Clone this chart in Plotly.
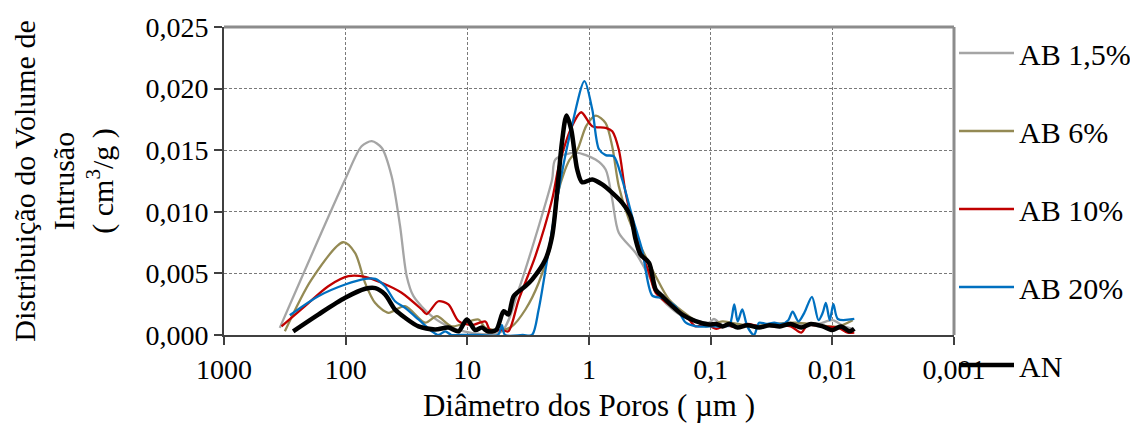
import plotly.graph_objects as go

series_names = ["AB 1,5%", "AB 6%", "AB 10%", "AB 20%", "AN"]
colors = ["#A5A5A5", "#948A54", "#C00000", "#0070C0", "#000000"]
widths = [2.3, 2.3, 2.3, 2.3, 4.5]

d_ab15 = [348, 101, 74, 61, 50.6, 41.9, 35.7, 31.5, 27.7, 19.6, 13.4, 8.1, 5.2, 3.78, 2.59, 2.01, 1.89,
          1.29, 0.884, 0.73, 0.644, 0.569, 0.414, 0.321, 0.25, 0.171, 0.103, 0.094, 0.08, 0.06, 0.045,
          0.03, 0.02, 0.013, 0.01, 0.008, 0.0068]
v_ab15 = [0.00058, 0.01262, 0.01532, 0.01573, 0.0152, 0.01289, 0.00883, 0.00477, 0.00315, 0.00153, 0.00058,
          0.0001, 0.0003, 0.0037, 0.00883, 0.01262, 0.01424, 0.01481, 0.01424, 0.01343, 0.011, 0.0083,
          0.00667, 0.00477, 0.00288, 0.00153, 0.001, 0.0013, 0.0008, 0.0007, 0.0008, 0.0007, 0.0008,
          0.0009, 0.0012, 0.0007, 0.0005]

d_ab6 = [316, 191, 105, 83.8, 69.3, 57.4, 44.6, 32.5, 22.2, 17.8, 13.4, 8.1, 7.1, 5.2, 4.3, 3.33, 2.59,
         2.01, 1.77, 1.45, 1.25, 1.05, 0.88, 0.73, 0.644, 0.569, 0.47, 0.366, 0.283, 0.22, 0.151, 0.11,
         0.1, 0.08, 0.06, 0.045, 0.03, 0.02, 0.013, 0.009, 0.0068]
v_ab6 = [0.0003, 0.0045, 0.00753, 0.00667, 0.00424, 0.00261, 0.0018, 0.00234, 0.001, 0.00153, 0.0007,
         0.00126, 0.00058, 0.0004, 0.0007, 0.00207, 0.00424, 0.0078, 0.0118, 0.0142, 0.0150, 0.0170,
         0.0178, 0.0172, 0.0153, 0.01208, 0.00938, 0.00694, 0.00477, 0.00288, 0.00153, 0.0007, 0.0008,
         0.0011, 0.0009, 0.0007, 0.0009, 0.0010, 0.0008, 0.0007, 0.0012]

d_ab10 = [337, 216, 139, 95, 69.4, 50.6, 34.7, 23.7, 21.6, 17.3, 14.3, 11.8, 9.2, 7.1, 6.5, 5.2, 4.6,
          3.78, 2.76, 2.01, 1.77, 1.38, 1.16, 0.94, 0.73, 0.644, 0.569, 0.5, 0.389, 0.321, 0.283, 0.194,
          0.151, 0.133, 0.11, 0.09, 0.075, 0.06, 0.05, 0.04, 0.03, 0.022, 0.018, 0.016, 0.012, 0.009,
          0.0075, 0.0066]
v_ab10 = [0.0007, 0.00234, 0.00396, 0.00477, 0.00472, 0.00424, 0.00343, 0.00207, 0.0017, 0.00274, 0.00248,
          0.00112, 0.0008, 0.0011, 0.0004, 0.0004, 0.0003, 0.00288, 0.0064, 0.011, 0.0137, 0.01695,
          0.01808, 0.01695, 0.01682, 0.01654, 0.01506, 0.01154, 0.0072, 0.00505, 0.00343, 0.00207,
          0.00126, 0.0007, 0.0009, 0.0005, 0.0008, 0.0006, 0.0009, 0.0007, 0.0008, 0.0007, 0.0002,
          0.0008, 0.0007, 0.0006, 0.0002, 0.0002]

d_ab20 = [288, 168, 101, 69, 57, 47.5, 39.3, 32.5, 25.2, 19.6, 17.3, 15.2, 13.5, 12, 8, 5.6, 5.2, 4.9,
          3.5, 2.94, 2.6, 2.2, 1.72, 1.38, 1.09, 0.94, 0.83, 0.73, 0.625, 0.533, 0.441, 0.366, 0.302,
          0.25, 0.194, 0.16, 0.13, 0.1, 0.08, 0.07, 0.064, 0.06, 0.055, 0.05, 0.044, 0.04, 0.035, 0.03,
          0.026, 0.023, 0.0212, 0.019, 0.017, 0.0147, 0.013, 0.012, 0.0113, 0.0105, 0.0098, 0.009,
          0.0066]
v_ab20 = [0.0016, 0.00315, 0.0041, 0.00456, 0.00456, 0.00396, 0.00274, 0.0022, 0.00126, 0.0003, 0.0,
          0.0003, 0.0, 0.0, 0.0, 0.0, 0.0008, 0.0, 0.0, 0.0, 0.002, 0.0062, 0.0125, 0.0170, 0.0206,
          0.0183, 0.0151, 0.0146, 0.0145, 0.0126, 0.0096, 0.0069, 0.0032, 0.0030, 0.0023, 0.0010,
          0.0007, 0.0007, 0.0007, 0.0008, 0.00248, 0.0011, 0.00207, 0.0007, 0.0, 0.001, 0.0009, 0.0010,
          0.0009, 0.0012, 0.0019, 0.0011, 0.0018, 0.0031, 0.0012, 0.0018, 0.0026, 0.0012, 0.0025,
          0.0013, 0.0013]

d_an = [270, 168, 101, 69, 57, 47.5, 39.3, 32.5, 25.2, 18.4, 14.3, 11.8, 10.1, 8.6, 7.6, 6.8, 5.8, 5.03,
        4.6, 4.16, 3.33, 2.94, 2.28, 2.01, 1.83, 1.67, 1.53, 1.40, 1.25, 1.14, 0.94, 0.78, 0.644, 0.533,
        0.455, 0.414, 0.377, 0.321, 0.283, 0.25, 0.207, 0.171, 0.133, 0.103, 0.09, 0.08, 0.07, 0.06,
        0.05, 0.04, 0.033, 0.027, 0.022, 0.018, 0.015, 0.012, 0.01, 0.0085, 0.0072, 0.0066]
v_an = [0.0003, 0.00166, 0.00302, 0.00375, 0.0038, 0.00329, 0.00207, 0.0014, 0.0007, 0.00045, 0.0006,
        0.0003, 0.00126, 0.0004, 0.0006, 0.0003, 0.0004, 0.00193, 0.00166, 0.00315, 0.00396, 0.0045,
        0.00613, 0.00802, 0.01154, 0.0156, 0.01782, 0.01668, 0.01343, 0.0124, 0.01262, 0.01222,
        0.01154, 0.01073, 0.00964, 0.00775, 0.00653, 0.00586, 0.00369, 0.00315, 0.00234, 0.00166,
        0.00112, 0.00085, 0.0009, 0.0007, 0.0009, 0.0006, 0.0008, 0.0006, 0.0008, 0.0007, 0.0009,
        0.0006, 0.0009, 0.0007, 0.0004, 0.0007, 0.0003, 0.0005]

x_tickvals = [1000, 100, 10, 1, 0.1, 0.01, 0.001]
x_ticktext = ["1000", "100", "10", "1", "0,1", "0,01", "0,001"]
y_tickvals = [0.0, 0.005, 0.010, 0.015, 0.020, 0.025]

data = [(d_ab15, v_ab15), (d_ab6, v_ab6), (d_ab10, v_ab10), (d_ab20, v_ab20), (d_an, v_an)]

FONT = "Liberation Serif"
fig = go.Figure()
for i, (dx, vy) in enumerate(data):
    fig.add_trace(go.Scatter(
        x=dx, y=vy, mode="lines", name=series_names[i], legendgroup=series_names[i],
        line=dict(color=colors[i], width=widths[i], shape="spline", smoothing=0.8),
        cliponaxis=True,
    ))

grid = dict(gridcolor="#7a7a7a", griddash="3px,2px", gridwidth=1)
fig.update_layout(
    width=1130, height=415,
    margin=dict(l=216, r=184, t=19, b=88, autoexpand=False),
    paper_bgcolor="white", plot_bgcolor="white",
    separators=",.",
    font=dict(family=FONT, color="black", size=28),
    showlegend=True,
    legend=dict(x=1.0, xanchor="left", y=1.0, yanchor="top", font=dict(size=30, family=FONT, color="black"),
                traceorder="grouped", tracegroupgap=36, itemwidth=55, bgcolor="rgba(0,0,0,0)",
                borderwidth=0, maxheight=415),
    xaxis=dict(type="log", range=[3, -3], tickvals=x_tickvals, ticktext=x_ticktext, automargin=False,
               showline=True, linecolor="#404040", linewidth=2, ticks="outside", ticklen=8,
               tickcolor="#404040", tickwidth=1.5, zeroline=False,
               tickfont=dict(family=FONT, size=28, color="black"),
               title=dict(text="Diâmetro dos Poros ( µm )", font=dict(size=31, family=FONT, color="black"),
                          standoff=14),
               **grid),
    yaxis=dict(range=[0, 0.025], tickvals=y_tickvals, tickformat=".3f", automargin=False,
               showline=True, linecolor="#404040", linewidth=2, ticks="outside", ticklen=8,
               tickcolor="#404040", tickwidth=1.5, zeroline=False,
               tickfont=dict(family=FONT, size=28, color="black"),
               title=dict(text="Distribuição do Volume de<br>Intrusão<br>( cm<sup>3</sup>/g )",
                          font=dict(size=30, family=FONT, color="black"), standoff=26),
               **grid),
    shapes=[
        dict(type="line", xref="paper", yref="paper", x0=0, x1=1, y0=1, y1=1,
             line=dict(color="#8c8c8c", width=3)),
        dict(type="line", xref="paper", yref="paper", x0=1, x1=1, y0=0, y1=1,
             line=dict(color="#8c8c8c", width=3)),
    ],
)

fig.write_html("out.html")
